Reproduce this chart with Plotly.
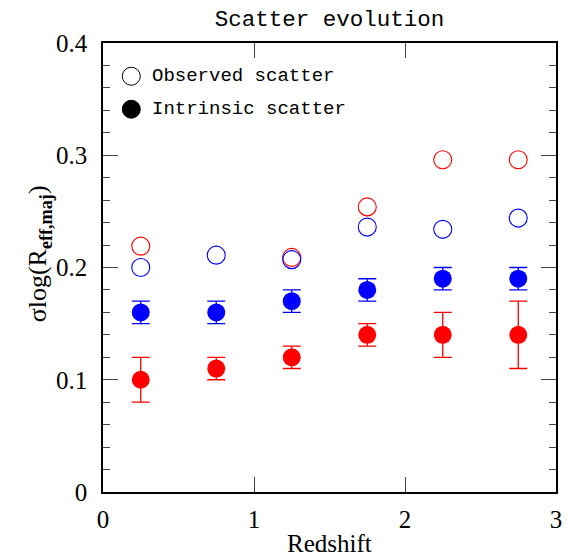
import plotly.graph_objects as go

# ---- data ----
redshift = [0.25, 0.75, 1.25, 1.75, 2.25, 2.75]
observed_red = [0.219, None, 0.209, 0.254, 0.296, 0.296]
observed_blue = [0.200, 0.211, 0.207, 0.236, 0.234, 0.244]
intrinsic_blue = [0.16, 0.16, 0.17, 0.18, 0.19, 0.19]
intrinsic_blue_err = [0.01, 0.01, 0.01, 0.01, 0.01, 0.01]
intrinsic_red = [0.10, 0.11, 0.12, 0.14, 0.14, 0.14]
intrinsic_red_err = [0.02, 0.01, 0.01, 0.01, 0.02, 0.03]
legend_labels = ["Observed scatter", "Intrinsic scatter"]
x_ticks = [0, 1, 2, 3]
y_ticks = [0, 0.1, 0.2, 0.3, 0.4]

RED = "#ff0000"
BLUE = "#0000ff"
SERIF = "Liberation Serif"
MONO = "Liberation Mono"

fig = go.Figure()

fig.add_trace(go.Scatter(x=redshift, y=observed_red, mode="markers",
                         marker=dict(symbol="circle-open", size=18, color=RED, line=dict(width=1.1, color=RED)),
                         showlegend=False))
fig.add_trace(go.Scatter(x=redshift, y=observed_blue, mode="markers",
                         marker=dict(symbol="circle-open", size=18, color=BLUE, line=dict(width=1.1, color=BLUE)),
                         showlegend=False))
fig.add_trace(go.Scatter(x=redshift, y=intrinsic_blue, mode="markers",
                         error_y=dict(type="data", array=intrinsic_blue_err, color=BLUE, thickness=1.3, width=9),
                         marker=dict(symbol="circle", size=18, color=BLUE),
                         showlegend=False))
fig.add_trace(go.Scatter(x=redshift, y=intrinsic_red, mode="markers",
                         error_y=dict(type="data", array=intrinsic_red_err, color=RED, thickness=1.3, width=9),
                         marker=dict(symbol="circle", size=18, color=RED),
                         showlegend=False))

W, H = 572, 556
L, R, T, B = 102.7, 16, 42.7, 63.7
pw, ph = W - L - R, H - T - B
def px2paper(xp, yp):
    return (xp - L) / pw, (H - B - yp) / ph

# legend drawn as shapes + text
leg_rows = [(76, False), (109, True)]
for (yp, filled), label in zip(leg_rows, legend_labels):
    xa, ya = px2paper(131, yp)
    fig.add_shape(type="circle", xref="paper", yref="paper",
                  xsizemode="pixel", ysizemode="pixel", xanchor=xa, yanchor=ya,
                  x0=-9, x1=9, y0=-9, y1=9,
                  line=dict(color="black", width=1),
                  fillcolor="black" if filled else "rgba(0,0,0,0)")
    xt, _ = px2paper(150, yp)
    fig.add_annotation(x=xt, y=ya, xref="paper", yref="paper", text=label,
                       showarrow=False, xanchor="left", yanchor="middle",
                       font=dict(family=MONO, size=19, color="black"))

# y-axis title as rotated annotation
xy, yy = px2paper(39, 254)
fig.add_annotation(x=xy, y=yy, xref="paper", yref="paper", textangle=-90,
                   text="σlog(R<sub><b>eff,maj</b></sub>)", showarrow=False,
                   xanchor="center", yanchor="middle",
                   font=dict(family=SERIF, size=26, color="black"))

# x-axis title as annotation
xx, yx = px2paper(L + pw / 2, 544)
fig.add_annotation(x=xx, y=yx, xref="paper", yref="paper", text="Redshift",
                   showarrow=False, xanchor="center", yanchor="middle",
                   font=dict(family=SERIF, size=25, color="black"))

fig.update_layout(
    width=W, height=H,
    margin=dict(l=L, r=R, t=T, b=B, autoexpand=False),
    plot_bgcolor="white", paper_bgcolor="white",
    title=dict(text="Scatter evolution", x=0.5, xref="paper", xanchor="center",
               y=1 - 18 / H, yref="container", yanchor="middle",
               font=dict(family=MONO, size=22.5, color="black")),
    showlegend=False,
)
fig.update_xaxes(range=[0, 3], tickvals=x_ticks, ticks="inside", ticklen=15, tickwidth=1.2,
                 tickcolor="#444", showline=True, linewidth=1.5, linecolor="black", mirror="ticks",
                 showgrid=False, zeroline=False, ticklabelstandoff=4, automargin=False,
                 tickfont=dict(family=SERIF, size=25, color="black"))
fig.update_yaxes(range=[0, 0.4], tickvals=y_ticks, ticks="inside", ticklen=15, tickwidth=1.2,
                 tickcolor="#444", showline=True, linewidth=1.5, linecolor="black", mirror="ticks",
                 showgrid=False, zeroline=False, ticklabelstandoff=9, automargin=False,
                 minor=dict(dtick=0.02, ticks="inside", ticklen=7.5, tickwidth=1.2, tickcolor="#444", showgrid=False),
                 tickfont=dict(family=SERIF, size=25, color="black"))

fig.write_html("out.html")
